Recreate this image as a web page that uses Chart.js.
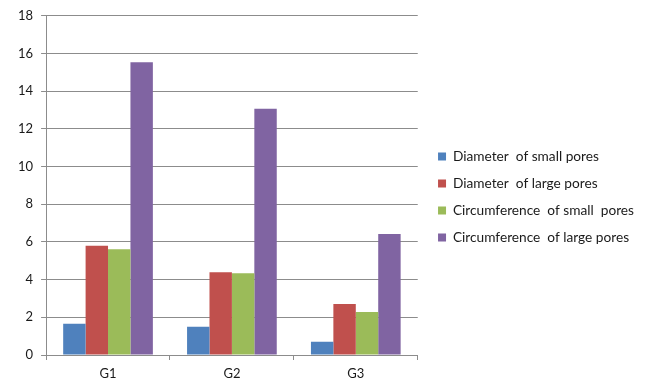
<!DOCTYPE html>
<html>
<head>
<meta charset="utf-8">
<script src="https://cdn.jsdelivr.net/npm/chart.js@4.4.1/dist/chart.umd.min.js"></script>
<style>
  html, body { margin: 0; padding: 0; background: #fff; }
  #wrap { width: 645px; height: 379px; }
</style>
</head>
<body>
<div id="wrap"><canvas id="chart" width="645" height="379"></canvas></div>
<script>
// Pore measurements per group
const groups = ['G1', 'G2', 'G3'];
const diamSmall = [1.66, 1.50, 0.70];
const diamLarge = [5.80, 4.39, 2.70];
const circSmall = [5.61, 4.34, 2.28];
const circLarge = [15.54, 13.07, 6.42];
const seriesNames = [
  'Diameter  of small pores',
  'Diameter  of large pores',
  'Circumference  of small  pores',
  'Circumference  of large pores'
];
const seriesColors = ['#4F81BD', '#C0504D', '#9BBB59', '#8064A2'];

const gridColor = '#8c8c8c';
const textColor = '#1a1a1a';
const font = { family: 'Lato, "Open Sans", sans-serif', size: 13 };
const legendFont = { family: 'Lato, "Open Sans", sans-serif', size: 13.7 };

const datasets = [diamSmall, diamLarge, circSmall, circLarge].map((d, i) => ({
  label: seriesNames[i],
  data: d,
  backgroundColor: seriesColors[i],
  borderWidth: 0,
  categoryPercentage: 0.724,
  barPercentage: 1
}));

// push the legend a little to the right of where the layout puts it
const legendNudge = {
  id: 'legendNudge',
  afterLayout(chart) {
    const lg = chart.legend;
    if (!lg) return;
    lg.left += 7; lg.right += 7;
  }
};

new Chart(document.getElementById('chart'), {
  type: 'bar',
  data: { labels: groups, datasets },
  plugins: [legendNudge],
  options: {
    responsive: false,
    animation: false,
    layout: { padding: { top: 15, left: 10, right: 8, bottom: 0 } },
    plugins: {
      tooltip: { enabled: false },
      legend: {
        position: 'right',
        maxWidth: 400,
        labels: {
          color: textColor,
          font: legendFont,
          boxWidth: 8,
          boxHeight: 8,
          padding: 13.3
        }
      }
    },
    scales: {
      x: {
        afterFit: (scale) => { scale.height = 24; },
        grid: { offset: true, drawOnChartArea: false, drawTicks: true, tickLength: 5, color: gridColor },
        border: { color: gridColor },
        ticks: { color: textColor, font: font, padding: 6 }
      },
      y: {
        min: 0, max: 18,
        ticks: { stepSize: 2, color: textColor, font: font, padding: 8 },
        grid: { color: gridColor, tickLength: 5 },
        border: { color: gridColor }
      }
    }
  }
});
</script>
</body>
</html>
